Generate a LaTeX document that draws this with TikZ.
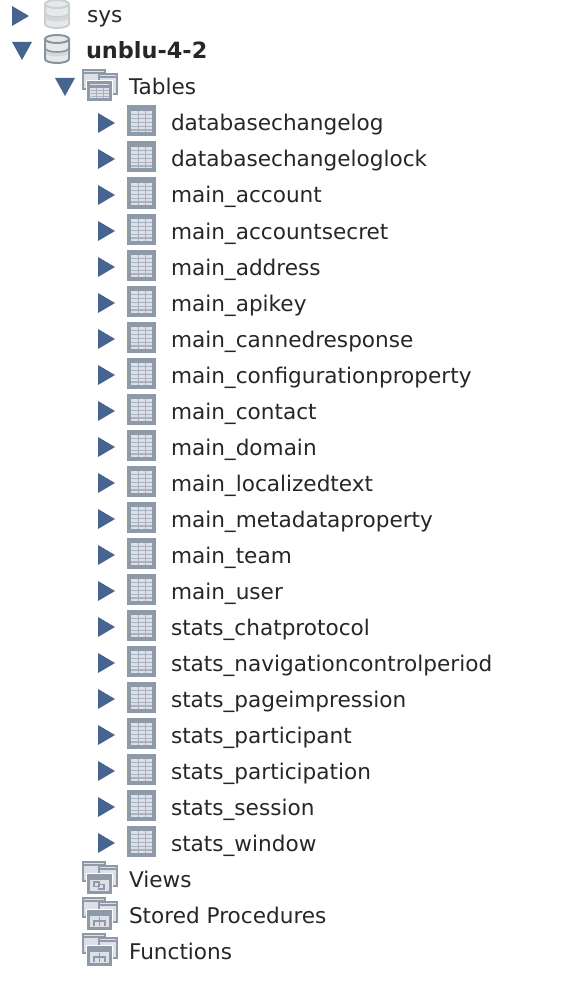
\documentclass[tikz,border=0pt]{standalone}
\usepackage{fontspec}
\setmainfont{DejaVu Sans}
\usetikzlibrary{positioning}
\definecolor{tipblue}{HTML}{46648F}
\definecolor{iconedge}{HTML}{8F9AA9}
\definecolor{iconfill}{HTML}{DDE0E7}
\definecolor{iconline}{HTML}{A9B1BF}
\definecolor{dbedge}{HTML}{8A949C}
\definecolor{dbfill}{HTML}{E6E9EA}
\definecolor{dbband}{HTML}{D3D7DA}
\definecolor{labeltext}{HTML}{262626}
\tikzset{
  % tree labels
  rowlabel/.style={anchor=base west, inner sep=0, outer sep=0, text=labeltext,
    font=\fontsize{21.6}{26}\selectfont},
  % expand and collapse tips
  tipclosed/.pic={\fill[tipblue] (0,-10) -- (17,0) -- (0,10) -- cycle;},
  tipopen/.pic={\fill[tipblue] (-10,-9) -- (10,-9) -- (0,9) -- cycle;},
  % one table
  tblicon/.pic={
    \fill[iconedge] (-14.5,-15.5) rectangle (14.5,15.5);
    \fill[iconfill] (-10.5,-10) rectangle (10.5,11.5);
    \foreach \r in {-6.5,-2.5,1.5,5.5,9} \draw[iconline, line width=1.4pt] (-10.5,\r) -- (10.5,\r);
    \foreach \c in {-3.5,3.5} \draw[iconline, line width=1pt] (\c,-10) -- (\c,11.5);
  },
  % group of tables
  backwin/.style={fill=iconfill, draw=iconedge, line width=2.5pt},
  groupframe/.pic={
    \path[backwin] (-17,-15) rectangle (5,4);
    \draw[iconedge, line width=2.5pt] (-17,-12) -- (5,-12);
    \path[backwin] (-1,-11) rectangle (17,9);
    \draw[iconedge, line width=2.5pt] (-1,-8) -- (17,-8);
    \fill[white] (-14,-4.5) rectangle (12.5,17);
    \path[backwin, line width=3pt] (-11.5,-2) rectangle (10.5,15);
    \draw[iconedge, line width=2.5pt] (-11.5,1.5) -- (10.5,1.5);
  },
  grouptables/.pic={
    \pic {groupframe};
    \foreach \r in {5,8,11} \draw[iconline] (-9.5,\r) -- (8.5,\r);
    \foreach \c in {-4,3} \draw[iconline] (\c,3) -- (\c,13.5);
  },
  groupviews/.pic={
    \pic {groupframe};
    \draw[iconedge, line width=1.2pt] (-6,5) rectangle (-1,9.5) (-1.5,7.5) rectangle (4,12);
  },
  groupprocs/.pic={
    \pic {groupframe};
    \draw[iconedge, line width=1.2pt] (-0.5,3.5) -- (-0.5,8) (-6,13) -- (-6,8) -- (5,8) -- (5,13) (-0.5,8) -- (-0.5,13);
  },
  % one database
  dbicon/.pic={
    \filldraw[draw=#1, fill=dbfill, line width=2pt]
      (-12,-10) arc[start angle=180, end angle=360, x radius=12, y radius=4]
      -- (12,10) arc[start angle=0, end angle=180, x radius=12, y radius=4] -- cycle;
    \fill[dbband] (-11,0) arc[start angle=180, end angle=0, x radius=11, y radius=3.5]
      -- (11,4) arc[start angle=0, end angle=180, x radius=11, y radius=3.5] -- cycle;
    \draw[#1, line width=2pt] (-12,-10) arc[start angle=180, end angle=0, x radius=12, y radius=4];
    \draw[#1, line width=1.6pt] (-12,-1) arc[start angle=180, end angle=0, x radius=12, y radius=4];
  },
}
\begin{document}
\begin{tikzpicture}[x=1pt, y=-1pt]
  \useasboundingbox (0,0) rectangle (560,987);
  \clip (0,0) rectangle (560,987);

  % databases
  \pic at (12,16) {tipclosed};
  \pic at (57,14) {dbicon={dbedge!45}};
  \node[rowlabel] (sys) at (87,23) {sys};
  \pic at (22,51) {tipopen};
  \pic at (57,49) {dbicon={dbedge}};
  \node[rowlabel, font=\fontsize{22.4}{26}\selectfont\bfseries] (unblu) at (86,59) {unblu-4-2};

  % tables
  \pic at (65,87) {tipopen};
  \pic at (100,85) {grouptables};
  \node[rowlabel] (tables) at (129,95) {Tables};

  \foreach \name [count=\i from 0, evaluate=\i as \ypos using 123+36*\i] in {
    databasechangelog, databasechangeloglock, main\_account, main\_accountsecret,
    main\_address, main\_apikey, main\_cannedresponse, main\_configurationproperty,
    main\_contact, main\_domain, main\_localizedtext, main\_metadataproperty,
    main\_team, main\_user, stats\_chatprotocol, stats\_navigationcontrolperiod,
    stats\_pageimpression, stats\_participant, stats\_participation,
    stats\_session, stats\_window} {
    \pic at (98,\ypos) {tipclosed};
    \pic at (141.5,\ypos-2) {tblicon};
    \node[rowlabel] (tbl\i) at (171,\ypos+8) {\name};
  }

  % other groups
  \pic at (100,877) {groupviews};
  \node[rowlabel] (views) at (129,887) {Views};
  \pic at (100,913) {groupprocs};
  \node[rowlabel] (procs) at (129,923) {Stored Procedures};
  \pic at (100,949) {groupprocs};
  \node[rowlabel] (funcs) at (129,959) {Functions};
\end{tikzpicture}
\end{document}
